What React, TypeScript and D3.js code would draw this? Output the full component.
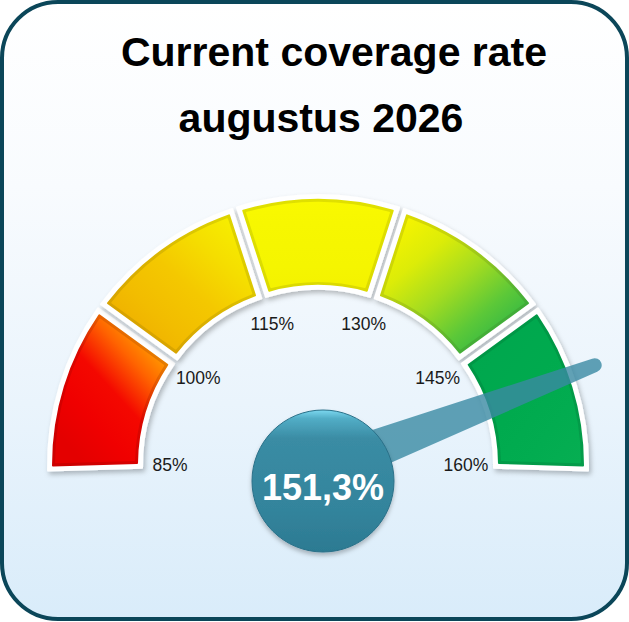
import React from 'react'
import * as d3 from 'd3'

// ---- data ----
const thresholds = [85, 100, 115, 130, 145, 160]
const tickLabels = ['85%', '100%', '115%', '130%', '145%', '160%']
const currentValue = 151.3
const valueLabel = '151,3%'
const titleLines = ['Current coverage rate', 'augustus 2026']

// ---- palette (one gradient per band) ----
const bandStops: string[][] = [
  ['#e40000', '#f00000', '#f40800', '#ff6400', '#ffb000'],
  ['#eeac00', '#f2bc00', '#f4c800', '#f5de00', '#f7f000'],
  ['#f4f200', '#f5f500', '#f6f600', '#f7f700', '#f9f900'],
  ['#f6f400', '#dcec08', '#a4dc20', '#5cc838', '#28b448'],
  ['#00a64c', '#00a84e', '#00aa4e', '#02ac50', '#06ae52'],
]
const bandDir = [
  { x1: 0.15, y1: 0.9, x2: 0.85, y2: 0.05 },
  { x1: 0.1, y1: 0.95, x2: 0.95, y2: 0.05 },
  { x1: 0, y1: 1, x2: 0, y2: 0 },
  { x1: 0.1, y1: 0.05, x2: 0.9, y2: 0.95 },
  { x1: 0, y1: 0, x2: 1, y2: 1 },
]

const W = 629
const H = 622
const cx = 318
const cy = 465
const innerR = 180
const outerR = 266
const padR = 300
const endExtra = 0.03
const font = "'Liberation Sans', Arial, sans-serif"

export default function App() {
  const angle = d3.scaleLinear().domain([85, 160]).range([-Math.PI / 2, Math.PI / 2])
  const bands = d3.range(thresholds.length - 1).map(i => ({
    i,
    lo: thresholds[i],
    hi: thresholds[i + 1],
    start: angle(thresholds[i]) - (i === 0 ? endExtra : 0),
    end: angle(thresholds[i + 1]) + (i === thresholds.length - 2 ? endExtra : 0),
  }))

  const mkArc = (inset: number, pad: number) =>
    d3.arc<any>()
      .innerRadius(innerR + inset)
      .outerRadius(outerR - inset)
      .startAngle(d => d.start)
      .endAngle(d => d.end)
      .padRadius(padR)
      .padAngle(pad / padR)
      .cornerRadius(1)

  const whiteArc = mkArc(-5, 3)
  const baseArc = mkArc(0, 13)
  const faceArc = mkArc(3, 19)

  // needle
  const a = angle(currentValue)
  const theta = (Math.PI / 2 - a) * 180 / Math.PI
  const pivot = { x: 320, y: 470 }
  const nLen = 294
  const needlePath = `M0,-22 L${nLen},-7 A7,7 0 0 1 ${nLen},7 L0,22 Z`

  const bubble = { x: 323, y: 481, r: 71 }

  return (
    <svg width={W} height={H} style={{ position: 'absolute', left: 0, top: 0, fontFamily: font }}>
      <defs>
        <linearGradient id="bg" x1="0" y1="0" x2="0" y2="1">
          <stop offset="0" stopColor="#ffffff" />
          <stop offset="0.3" stopColor="#f8fbfe" />
          <stop offset="0.65" stopColor="#eaf4fc" />
          <stop offset="1" stopColor="#d9ecfa" />
        </linearGradient>
        {bands.map(b => (
          <React.Fragment key={b.i}>
            <linearGradient id={`band${b.i}`} {...bandDir[b.i]}>
              {bandStops[b.i].map((c, k) => (
                <stop key={k} offset={k / (bandStops[b.i].length - 1)} stopColor={c} />
              ))}
            </linearGradient>
            <linearGradient id={`rim${b.i}`} {...bandDir[b.i]}>
              {bandStops[b.i].map((c, k) => (
                <stop key={k} offset={k / (bandStops[b.i].length - 1)} stopColor={d3.color(c)!.darker(0.3).formatHex()} />
              ))}
            </linearGradient>
          </React.Fragment>
        ))}
        <linearGradient id="bubbleFill" x1="0" y1="0" x2="0" y2="1">
          <stop offset="0" stopColor="#7cd8f0" />
          <stop offset="0.06" stopColor="#52adc6" />
          <stop offset="0.2" stopColor="#3a8ca4" />
          <stop offset="0.7" stopColor="#33849c" />
          <stop offset="1" stopColor="#2c7a92" />
        </linearGradient>
        <filter id="shadow" x="-10%" y="-10%" width="130%" height="130%">
          <feDropShadow dx="2" dy="3" stdDeviation="2.5" floodColor="#000" floodOpacity="0.26" />
        </filter>
        <filter id="bshadow" x="-20%" y="-20%" width="140%" height="140%">
          <feDropShadow dx="0" dy="3" stdDeviation="2" floodColor="#000" floodOpacity="0.25" />
        </filter>
      </defs>

      {/* frame */}
      <rect x={2} y={2} width={W - 4} height={H - 5} rx={56} ry={56}
        fill="url(#bg)" stroke="#0b4659" strokeWidth={4} />

      {/* title */}
      <text x={334} y={66} textAnchor="middle" fontSize={41} fontWeight="bold" fill="#000">{titleLines[0]}</text>
      <text x={321} y={132} textAnchor="middle" fontSize={41} fontWeight="bold" fill="#000">{titleLines[1]}</text>

      {/* gauge bands */}
      <g transform={`translate(${cx},${cy})`}>
        {bands.map(b => (
          <g key={b.i}>
            <path d={whiteArc(b)!} fill="#ffffff" filter="url(#shadow)" />
            <path d={baseArc(b)!} fill={`url(#rim${b.i})`} />
            <path d={faceArc(b)!} fill={`url(#band${b.i})`} />
          </g>
        ))}
        {thresholds.map((t, i) => {
          const ang = angle(t)
          const r = 148
          return (
            <text key={t} x={Math.sin(ang) * r} y={-Math.cos(ang) * r} dy="0.35em"
              textAnchor="middle" fontSize={17.5} fill="#1a1a1a">{tickLabels[i]}</text>
          )
        })}
      </g>

      {/* needle */}
      <g transform={`translate(${pivot.x},${pivot.y}) rotate(${-theta})`}>
        <path d={needlePath} fill="#3a8aa3" fillOpacity={0.8} />
      </g>

      {/* value bubble */}
      <circle cx={bubble.x} cy={bubble.y} r={bubble.r} fill="url(#bubbleFill)" stroke="#2a7088" strokeWidth={1} filter="url(#bshadow)" />
      <text x={bubble.x} y={bubble.y + 19} textAnchor="middle" fontSize={36} fontWeight="bold" fill="#ffffff">{valueLabel}</text>
    </svg>
  )
}
